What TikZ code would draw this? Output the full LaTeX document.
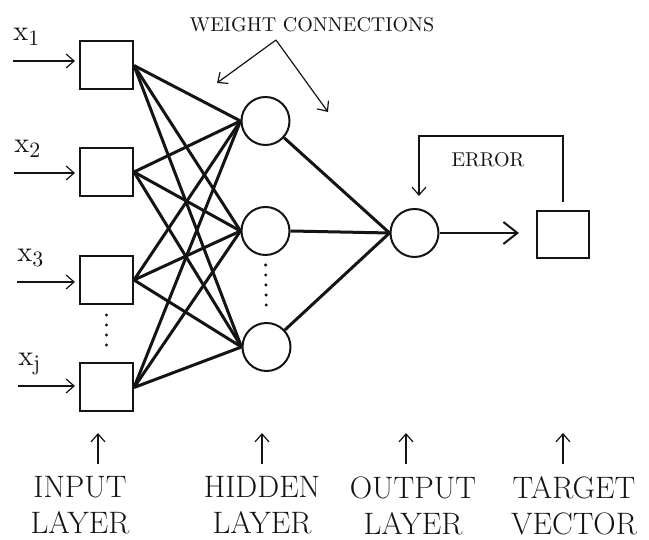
\documentclass[tikz,border=0pt]{standalone}
\usepackage{amsmath}
\usepackage{tikz}
\usetikzlibrary{arrows.meta,positioning,calc}
\definecolor{ink}{HTML}{141414}
\tikzset{
  unit/.style={draw=ink,fill=white,minimum width=26.5pt,minimum height=24pt,
    inner sep=0pt,line width=1pt},
  neuron/.style={circle,draw=ink,fill=white,minimum size=24pt,inner sep=0pt,line width=1pt},
  wire/.style={line width=1.5pt,color=ink},
  fine/.style={-{Straight Barb[length=4pt,width=7pt]},line width=0.6pt,color=ink},
  bold/.style={-{Straight Barb[length=7pt,width=11pt]},line width=1pt,color=ink},
  dots/.style={line width=1.7pt,line cap=round,dash pattern=on 0pt off 5pt,color=ink},
  xlab/.style={font=\fontsize{15}{18}\selectfont,text=ink,inner sep=0pt},
  note/.style={font=\fontsize{10}{12}\selectfont,text=ink,inner sep=0pt},
  layer/.style={font=\fontsize{15.5}{18}\selectfont,text=ink,align=center,inner sep=0pt}
}

\begin{document}
\begin{tikzpicture}[x=0.5pt,y=0.5pt]
  \useasboundingbox (0,0) rectangle (649,540);
  % input units
  \node[unit] (i1) at (106.5,474.5) {};
  \node[unit] (i2) at (106.5,368)   {};
  \node[unit] (i3) at (106.5,260)   {};
  \node[unit] (i4) at (106.5,152.5) {};
  % hidden units
  \node[neuron] (h1) at (265.5,419) {};
  \node[neuron] (h2) at (265.5,309) {};
  \node[neuron] (h3) at (266.5,193) {};
  % output unit and target
  \node[neuron] (out) at (414.5,307) {};
  \node[unit,minimum width=26pt,minimum height=23.5pt] (tgt) at (563,305.5) {};
  % weight connections
  \foreach \a in {i1,i2,i3,i4}{%
    \foreach \b in {h1,h2,h3}{%
      \draw[wire] (\a.east) -- (\b.west);}}
  \draw[wire] (h1) -- (out.west);
  \draw[wire] (h2.east) -- (out.west);
  \draw[wire] (h3) -- (out.west);
  \draw[dots,shorten <=5pt,shorten >=5pt] (i3.south) -- (i4.north);
  \draw[dots,shorten <=4.5pt,shorten >=4.5pt] (h2.south) -- (h3.north);
  % inputs x_1 ... x_j
  \foreach \k/\sx/\sy/\s in {1/13/479/1,2/14/367/2,3/17/258/3,4/18/154/j}{%
    \coordinate (s\k) at (\sx,\sy);
    \draw[fine,shorten >=2pt] (s\k) -- (s\k -| i\k.west);
    \node[xlab,anchor=base west] (x\k) at ([yshift=10pt]s\k) {$\mathrm{x}_{\mathrm{\s}}$};}
  % output to target, error fed back
  \draw[bold,shorten >=8.5pt] (out.east) -- (out.east -| tgt.west);
  \node[note] (elab) at (488,380) {ERROR};
  \coordinate (ecorner) at (419,404);
  \draw[fine] ([yshift=4pt]tgt.north) |- (ecorner) -- ([xshift=2.25pt,yshift=6pt]out.north);
  % weight label
  \node[note] (wlab) at (312,515) {WEIGHT CONNECTIONS};
  \coordinate (wapex) at (276,500);
  \coordinate (w1) at (217,457);
  \coordinate (w2) at (328,428);
  \draw[fine] (wapex) -- (w1);
  \draw[fine] (wapex) -- (w2);
  % layer names
  \node[layer,anchor=north] (lin)  at (80,64)  {INPUT\\LAYER};
  \node[layer,anchor=north] (lhid) at (262,64) {HIDDEN\\LAYER};
  \node[layer,anchor=north] (lout) at (413,64) {OUTPUT\\LAYER};
  \node[layer,anchor=north] (ltgt) at (574,64) {TARGET\\VECTOR};
  \foreach \l/\tx in {lin/98,lhid/262,lout/406,ltgt/563}{%
    \coordinate (t\l) at (\tx,107);
    \draw[fine,shorten <=6pt] (t\l |- \l.north) -- (t\l);}
\end{tikzpicture}
\end{document}
